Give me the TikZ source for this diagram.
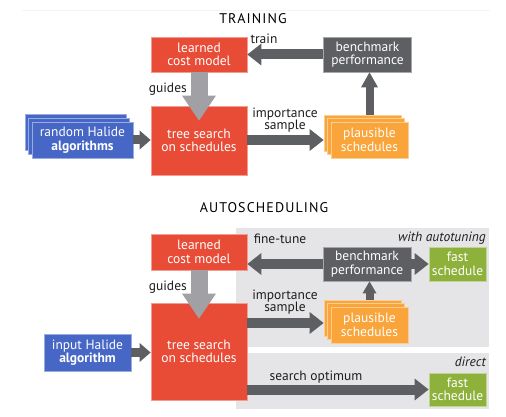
\documentclass[tikz,border=0pt]{standalone}
\usepackage{fontspec}
\setmainfont{PT Sans}
\usetikzlibrary{arrows.meta}
\definecolor{cred}{HTML}{E84C37}
\definecolor{cgray}{HTML}{5E5F63}
\definecolor{cblue}{HTML}{4767C6}
\definecolor{corange}{HTML}{F9A53B}
\definecolor{cgreen}{HTML}{8DB13B}
\definecolor{cpanel}{HTML}{E5E5E7}
\definecolor{cguide}{HTML}{A1A1A5}
\definecolor{ctext}{HTML}{1E1E1E}
\definecolor{cline}{HTML}{F4F4F4}
\begin{document}
\begin{tikzpicture}[x=1pt,y=-1pt,
  box/.style={rectangle, inner sep=0pt, align=center, text=white,
    font=\fontsize{13.5}{13.5}\selectfont, fill=#1, draw=#1!55!white, line width=0.8pt},
  lbl/.style={inner sep=0pt, text=ctext, font=\fontsize{13.5}{12.5}\selectfont, align=center},
  ilbl/.style={lbl, font=\fontsize{13.5}{13}\selectfont\itshape},
  ttl/.style={inner sep=0pt, text=black, font=\fontsize{14}{14}\selectfont\addfontfeatures{LetterSpace=8}},
  fat/.style={draw=cgray, line width=10pt, -{Triangle[length=14pt,width=22pt,line width=0pt]}},
  fatsmall/.style={draw=cgray, line width=9pt, -{Triangle[length=11pt,width=19pt,line width=0pt]}},
  fatup/.style={draw=cgray, line width=8pt, -{Triangle[length=15pt,width=17pt,line width=0pt]}},
  fatupsmall/.style={draw=cgray, line width=8pt, -{Triangle[length=12pt,width=14pt,line width=0pt]}},
  guide/.style={draw=cguide, line width=17pt, -{Triangle[length=25pt,width=34pt,line width=0pt]}},
]
\useasboundingbox (0,0) rectangle (506,417);
\fill[white] (0,0) rectangle (506,417);
\draw[cline, line width=0.6pt] (22,10) -- (490,10);

% ---------------- TRAINING ----------------
\node[ttl] (t1) at (253,19) {TRAINING};

\node[box=cred, minimum width=96pt, minimum height=35pt] (learned1) at (199,54.5) {learned\\cost model};
\node[box=cgray, minimum width=88pt, minimum height=35pt] (bench1) at (367.5,54.5) {benchmark\\performance};
\node[box=cred, minimum width=96pt, minimum height=69pt] (tree1) at (199,140.5) {tree search\\on schedules};

\node[box=cblue, minimum width=101pt, minimum height=36pt] (alg1c) at (75.5,132) {};
\node[box=cblue, minimum width=101pt, minimum height=36pt] (alg1b) at (79,136) {};
\node[box=cblue, minimum width=101pt, minimum height=36pt] (alg1a) at (82.5,140) {random Halide\\\textbf{algorithms}};

\node[box=corange, minimum width=77pt, minimum height=36pt] (plaus1c) at (362.5,133) {};
\node[box=corange, minimum width=77pt, minimum height=36pt] (plaus1b) at (366,136.5) {};
\node[box=corange, minimum width=77pt, minimum height=36pt] (plaus1a) at (369.5,140) {plausible\\schedules};

\draw[fat] (bench1.west) -- (learned1.east);
\draw[fatup] (plaus1a.north |- plaus1c.north) -- (plaus1a.north |- bench1.south);
\draw[fat] (tree1.east |- plaus1a.west) -- (plaus1c.west |- plaus1a.west);
\draw[fatsmall] (alg1a.east) -- (tree1.west |- alg1a.east);
\draw[guide] (learned1.south) -- ([yshift=-15pt]tree1.north);

\node[lbl] (train) at (264,39) {train};
\node[lbl, anchor=east] (guides1) at (187,89) {guides};
\node[lbl] (imp1) at (285,120) {importance\\sample};

% ---------------- AUTOSCHEDULING ----------------
\node[ttl] (t2) at (264,207.5) {AUTOSCHEDULING};

\fill[cpanel] (236,228) rectangle (489,347);
\fill[cpanel] (236,353) rectangle (489,409);

\node[box=cred, minimum width=96pt, minimum height=36pt] (learned2) at (199,252) {learned\\cost model};
\node[box=cgray, minimum width=88pt, minimum height=34pt] (bench2) at (367,264) {benchmark\\performance};
\node[box=cgreen, minimum width=57pt, minimum height=34pt] (fast2a) at (457.5,264) {fast\\schedule};
\node[box=cred, minimum width=96pt, minimum height=97pt] (tree2) at (199,351.5) {tree search\\on schedules};
\node[box=cblue, minimum width=87pt, minimum height=37pt] (input2) at (87.5,352.5) {input Halide\\\textbf{algorithm}};

\node[box=corange, minimum width=77pt, minimum height=36pt] (plaus2c) at (362.5,318) {};
\node[box=corange, minimum width=77pt, minimum height=36pt] (plaus2b) at (366,321.5) {};
\node[box=corange, minimum width=77pt, minimum height=36pt] (plaus2a) at (369.5,325) {plausible\\schedules};

\node[box=cgreen, minimum width=57pt, minimum height=33pt] (fast2b) at (457.5,389.5) {fast\\schedule};

\coordinate (imp2y) at (0,323);
\draw[fat] (bench2.west) -- (bench2.west -| learned2.east);
\draw[fat] (bench2.east) -- (fast2a.west);
\draw[fatupsmall] (plaus2a.north |- plaus2c.north) -- (plaus2a.north |- bench2.south);
\draw[fat] (tree2.east |- imp2y) -- (plaus2c.west |- imp2y);
\draw[fatsmall] (input2.east) -- (tree2.west |- input2.east);
\draw[fat] (tree2.east |- fast2b.west) -- (fast2b.west);
\draw[guide] (learned2.south) -- ([yshift=-16pt]tree2.north);

\node[lbl] (fine) at (280,239) {fine-tune};
\node[ilbl, anchor=east] (withat) at (486,238) {with autotuning};
\node[lbl, anchor=east] (guides2) at (187,287) {guides};
\node[lbl] (imp2) at (285,302) {importance\\sample};
\node[ilbl, anchor=east] (direct) at (486,362) {direct};
\node[lbl] (sopt) at (316,377) {search optimum};
\end{tikzpicture}
\end{document}
